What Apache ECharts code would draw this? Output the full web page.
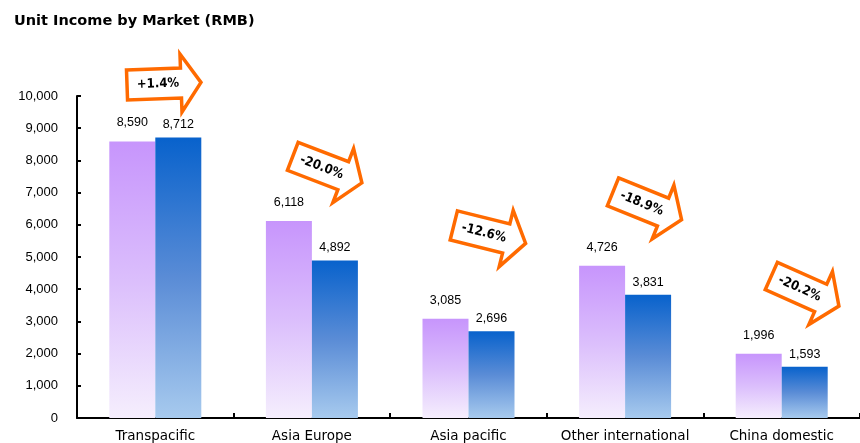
<!DOCTYPE html>
<html><head><meta charset="utf-8">
<script src="https://cdn.jsdelivr.net/npm/echarts@6/dist/echarts.min.js"></script>
<style>html,body{margin:0;padding:0;background:#fff}#c{width:860px;height:443px}</style>
</head><body><div id="c"></div>
<script>
const categories = ['Transpacific', 'Asia Europe', 'Asia pacific', 'Other international', 'China domestic'];
const previousYear = [8590, 6118, 3085, 4726, 1996];
const currentYear = [8712, 4892, 2696, 3831, 1593];
const changeLabels = ['+1.4%', '-20.0%', '-12.6%', '-18.9%', '-20.2%'];
const yTicks = { min: 0, max: 10000, interval: 1000 };

// annotation arrow placements (pixels, rotation degrees)
const arrowPlaces = [
  [154, 84, 2],
  [318, 166, -21],
  [480, 232, -14],
  [638, 202, -22],
  [796, 287, -24]
];

const chart = echarts.init(document.getElementById('c'));
const grad = (top, mid, bottom) => new echarts.graphic.LinearGradient(0, 0, 0, 1, [
  { offset: 0, color: top }, { offset: 0.5, color: mid }, { offset: 1, color: bottom }
]);
const fmt = v => v.toLocaleString('en-US');

const arrowPts = [[-27, -15], [27, -15], [27, -29], [47, 0], [27, 29], [27, 15], [-27, 15]];
const graphics = arrowPlaces.map((p, i) => ({
  type: 'group', x: p[0], y: p[1], rotation: p[2] * Math.PI / 180, z: 100,
  children: [
    { type: 'polygon', shape: { points: arrowPts },
      style: { fill: '#fff', stroke: '#ff6a00', lineWidth: 3.5, lineJoin: 'miter' } },
    { type: 'text', x: 4, y: 0,
      style: { text: changeLabels[i], fill: '#000', font: 'bold 13px "DejaVu Sans Condensed"',
        align: 'center', verticalAlign: 'middle' } }
  ]
}));

chart.setOption({
  animation: false,
  title: { text: 'Unit Income by Market (RMB)', left: 9, top: 9,
    textStyle: { fontFamily: 'DejaVu Sans', fontWeight: 'bold', fontSize: 14.5, color: '#000' } },
  grid: { left: 77, top: 96, width: 792, bottom: 25, containLabel: false },
  xAxis: {
    type: 'category', data: categories,
    axisLine: { lineStyle: { color: '#000', width: 2 } },
    axisTick: { show: true, inside: true, length: 5, lineStyle: { color: '#000', width: 2 } },
    axisLabel: { interval: 0, color: '#000', fontFamily: 'DejaVu Sans', fontSize: 13.5, margin: 11 }
  },
  yAxis: {
    type: 'value', min: yTicks.min, max: yTicks.max, interval: yTicks.interval,
    splitLine: { show: false },
    axisLine: { show: true, lineStyle: { color: '#000', width: 2 } },
    axisTick: { show: true, inside: true, length: 4, lineStyle: { color: '#000', width: 2 } },
    axisLabel: { color: '#000', fontFamily: 'Liberation Sans', fontSize: 13, margin: 19,
      formatter: v => fmt(v) }
  },
  series: [
    { name: 'Previous', type: 'bar', data: previousYear, barWidth: 46, barGap: '0%',
      itemStyle: { color: grad('#c795fc', '#dbbefc', '#f5eefd') },
      label: { show: true, position: 'top', distance: 12, color: '#000',
        fontFamily: 'Liberation Sans', fontSize: 12.5, formatter: p => fmt(p.value) } },
    { name: 'Current', type: 'bar', data: currentYear, barWidth: 46, barGap: '0%',
      itemStyle: { color: grad('#0862cc', '#5a8cd6', '#a7caee') },
      label: { show: true, position: 'top', distance: 6, color: '#000',
        fontFamily: 'Liberation Sans', fontSize: 12.5, formatter: p => fmt(p.value) } }
  ],
  graphic: graphics
});
</script></body></html>
